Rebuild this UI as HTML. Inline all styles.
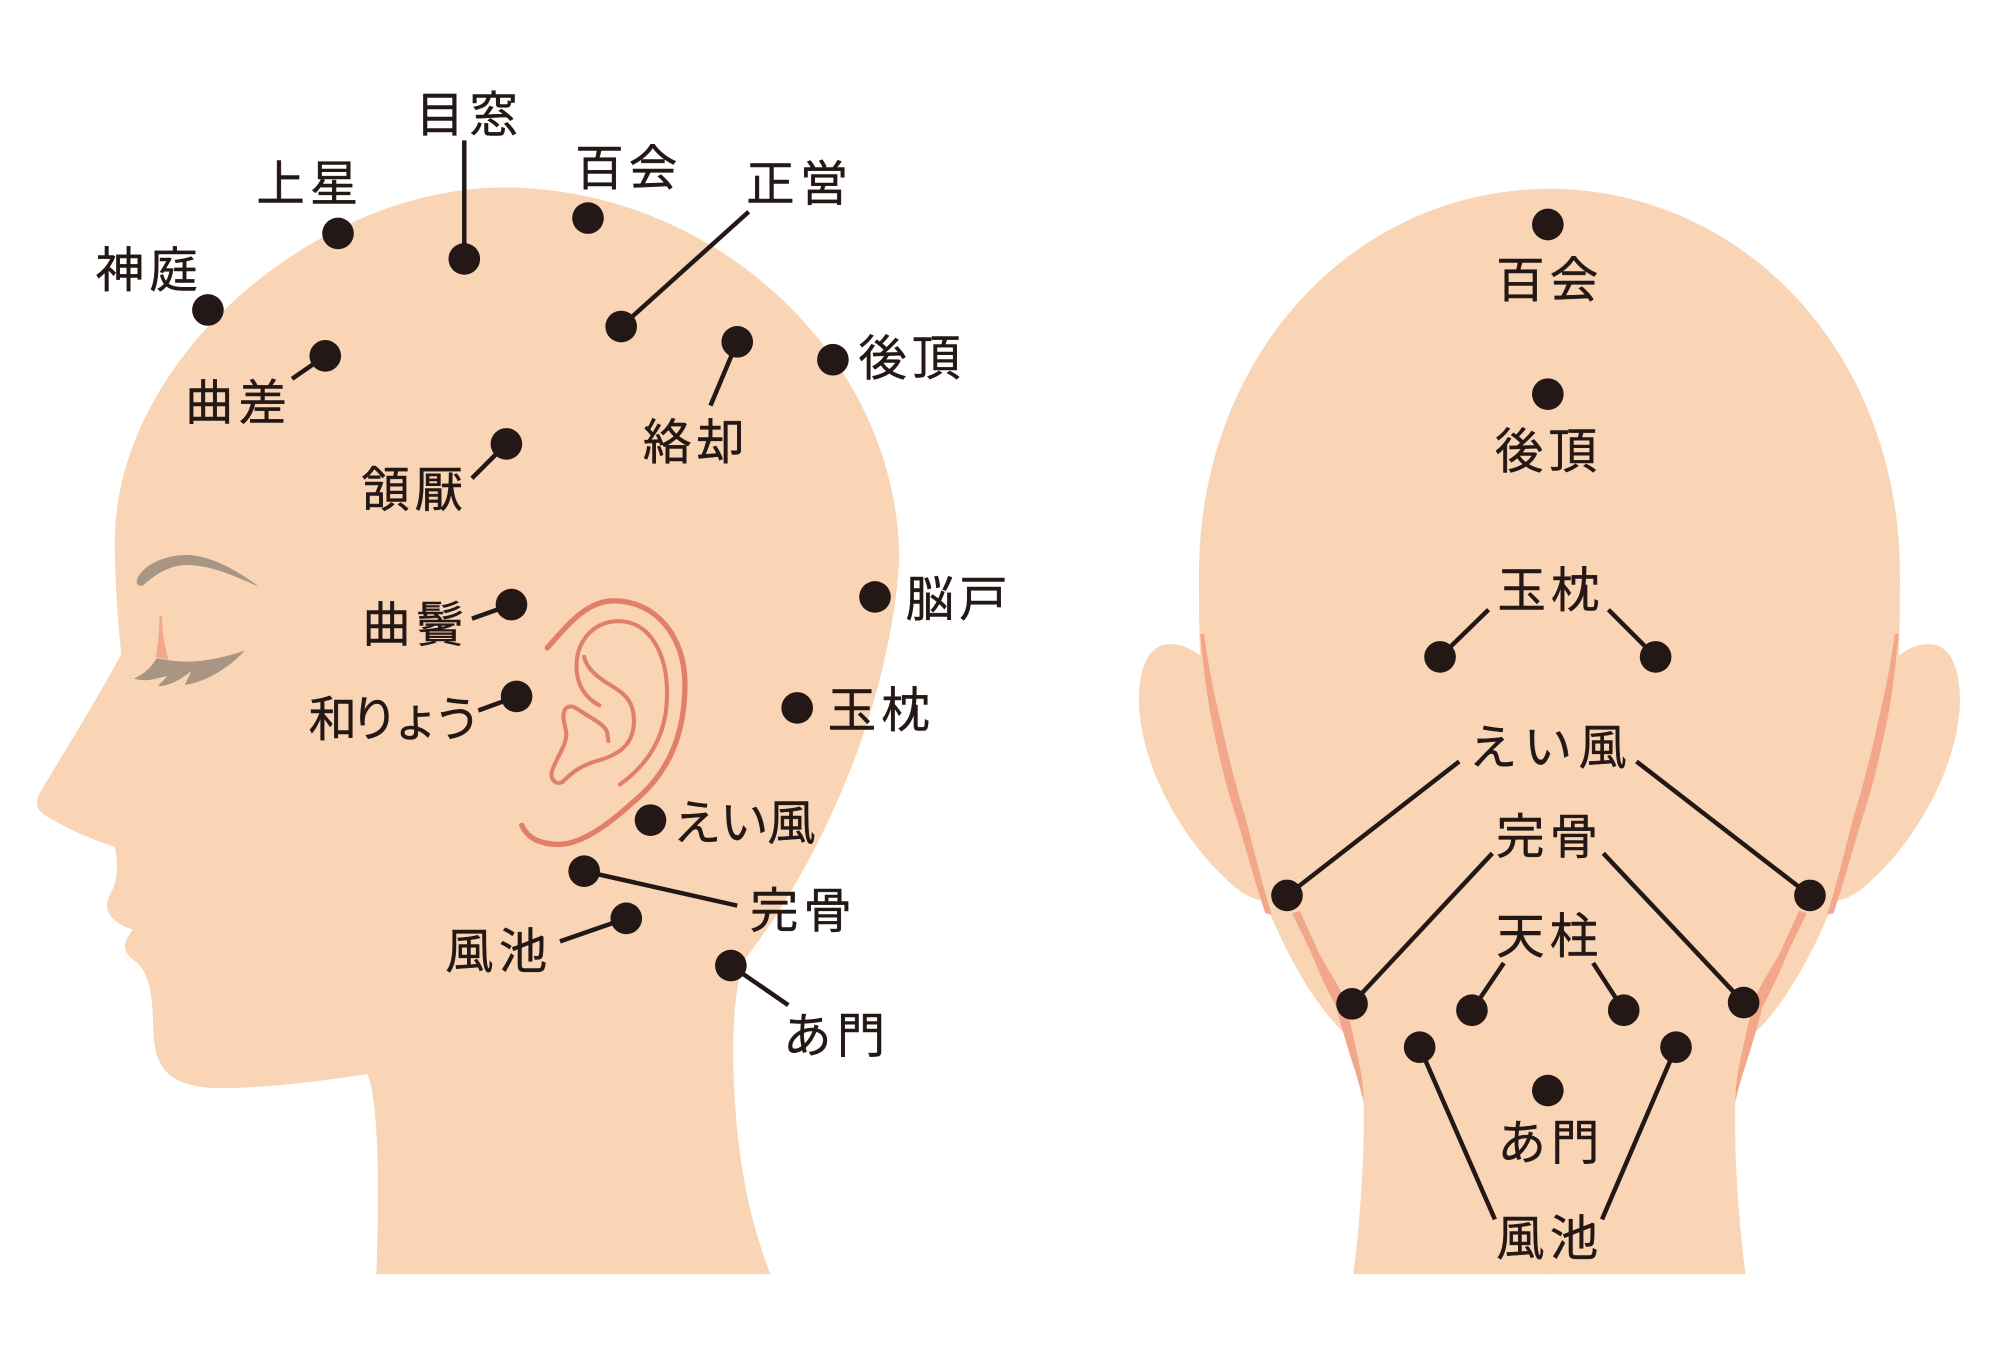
<!DOCTYPE html>
<html lang="ja"><head><meta charset="utf-8"><style>
html,body{margin:0;padding:0;background:#fff}
svg{display:block}
text{font-family:"Liberation Sans","Noto Sans CJK JP",sans-serif;font-size:38px;fill:#231815;stroke:#231815;stroke-width:.35px;text-anchor:middle;letter-spacing:4px}
.l line{stroke:#231815;stroke-width:3.5}
.d circle{fill:#231815}
</style></head><body>
<svg width="2000" height="1368" viewBox="0 0 1568 1072.5" xmlns="http://www.w3.org/2000/svg">
<rect width="1568" height="1072.5" fill="#fff"/>
<path fill="#f9d5b5" d="M395 147C250 147 90 280 90 425C90 460 93 490 95 513C75 550 50 590 31 622C26 632 30 637 42 643C55 651 72 658 90 664C93 680 92 690 87 700C80 712 85 722 104 729C97 738 95 745 104 752C116 760 119 775 120 800C120 830 125 850 165 853C200 854 250 848 288 842C296 860 298 920 295 999L604 999C585 950 577 900 575 840C574 800 577 770 584 752C640 680 697 560 705 440C705 280 560 147 395 147Z"/>
<path fill="#a99583" d="M108 453C114 441 132 435 147 435C168 436 190 450 203 460C185 452 165 443 146 443C132 443 120 452 112 459C108 460 106 457 108 453Z"/>
<path fill="#f2a68a" d="M125 483L127 483C127 495 129 506 132 517L122 515C124 505 125 495 125 483Z"/>
<path fill="#a99583" d="M192 510C170 517 150 522 123 516C118 524 112 529 105 532C115 535 122 532 131 530C128 534 125 536 124 538C132 538 142 533 150 526C148 531 146 534 145 537C160 535 178 525 192 510Z"/>
<g fill="none" stroke="#e0806a" stroke-linecap="round">
<path stroke-width="4.2" d="M429 508C445 490 460 471 481 471C515 471 537 500 537 536C537 575 525 606 495 630C475 648 455 662 438 662C425 662 414 658 409 647"/>
<path stroke-width="3.2" d="M486 615C510 598 523 575 523 544C523 510 508 487 485 487C465 487 452 503 452 522C452 538 460 548 470 553"/>
<path stroke-width="3.2" d="M458 515C460 525 470 532 480 538C492 545 497 552 497 565C497 580 490 590 470 596C455 600 448 606 441 613C435 616 431 610 433 604C437 592 444 585 444 575C443 567 440 562 443 556C447 552 450 554 456 558C465 564 474 568 476 574L477 581"/>
</g>
<g id="bh">
<path fill="#f9d5b5" d="M1216 148C1060 148 940 280 940 450C940 470 940 495 941 514C933 508 926 505 917 505C900 505 892 525 893 553C895 600 925 655 960 688C972 700 982 706 992 706L996 717C1010 750 1030 787 1053 809C1060 820 1068 840 1069 865C1070 910 1066 960 1061 999L1216 999Z"/>
<path fill="#f2a68a" d="M941 497L944 497C947 520 952 545 957 565C962 590 970 620 977 643C984 670 990 695 997 717L992 716C985 695 978 670 970 643C962 620 955 590 950 565C946 545 943 520 941 497Z"/>
<path fill="#f2a68a" d="M1013 716L1019 714C1024 725 1030 738 1034 747C1042 762 1052 775 1056 790L1064 826C1067 840 1069 850 1069 864C1066 850 1062 838 1058 826C1054 812 1050 800 1048 790C1040 775 1033 760 1028 747Z"/>
</g>
<use href="#bh" transform="translate(2429.5 0) scale(-1 1)"/>
<g class="l">
<line x1="364" y1="110" x2="364" y2="203"/><line x1="587" y1="166" x2="487" y2="256"/><line x1="557" y1="318" x2="578" y2="268"/><line x1="229" y1="297" x2="255" y2="279"/><line x1="370" y1="375" x2="397" y2="348"/><line x1="370" y1="485" x2="401" y2="474"/><line x1="375" y1="557" x2="405" y2="546"/><line x1="578" y1="710" x2="458" y2="683"/><line x1="439" y1="738" x2="491" y2="720"/><line x1="618" y1="788" x2="573" y2="757"/>
<line x1="1129" y1="515" x2="1167" y2="478"/><line x1="1298" y1="515" x2="1261" y2="478"/><line x1="1009" y1="702" x2="1144" y2="597"/><line x1="1419" y1="702" x2="1283" y2="597"/><line x1="1060" y1="787" x2="1170" y2="669"/><line x1="1367" y1="786" x2="1257" y2="669"/><line x1="1154" y1="792" x2="1179" y2="755"/><line x1="1273" y1="792" x2="1249" y2="755"/><line x1="1113" y1="821" x2="1172" y2="956"/><line x1="1314" y1="821" x2="1256" y2="956"/>
</g>
<g class="d">
<circle cx="163" cy="243" r="12.4"/><circle cx="265" cy="183" r="12.4"/><circle cx="364" cy="203" r="12.4"/><circle cx="461" cy="171" r="12.4"/><circle cx="487" cy="256" r="12.4"/><circle cx="578" cy="268" r="12.4"/><circle cx="653" cy="282" r="12.4"/><circle cx="255" cy="279" r="12.4"/><circle cx="397" cy="348" r="12.4"/><circle cx="401" cy="474" r="12.4"/><circle cx="405" cy="546" r="12.4"/><circle cx="686" cy="468" r="12.4"/><circle cx="625" cy="555" r="12.4"/><circle cx="510" cy="643" r="12.4"/><circle cx="458" cy="683" r="12.4"/><circle cx="491" cy="720" r="12.4"/><circle cx="573" cy="757" r="12.4"/>
<circle cx="1213.5" cy="176" r="12.4"/><circle cx="1213.5" cy="309" r="12.4"/><circle cx="1129" cy="515" r="12.4"/><circle cx="1298" cy="515" r="12.4"/><circle cx="1009" cy="702" r="12.4"/><circle cx="1419" cy="702" r="12.4"/><circle cx="1060" cy="787" r="12.4"/><circle cx="1367" cy="786" r="12.4"/><circle cx="1154" cy="792" r="12.4"/><circle cx="1273" cy="792" r="12.4"/><circle cx="1113" cy="821" r="12.4"/><circle cx="1314" cy="821" r="12.4"/><circle cx="1213.5" cy="855" r="12.4"/>
</g>
<text x="368" y="103">目窓</text><text x="243" y="157">上星</text><text x="493" y="145">百会</text><text x="627" y="157">正営</text><text x="117" y="225">神庭</text><text x="187" y="329">曲差</text><text x="715" y="294">後頂</text><text x="546" y="360">絡却</text><text x="325" y="397">頷厭</text><text x="326" y="503">曲鬢</text><text x="752" y="483">脳戸</text><text x="307" y="577" style="letter-spacing:-5.5px">和りょう</text><text x="691" y="570">玉枕</text><text x="583" y="658" style="letter-spacing:-1px">えい風</text><text x="630" y="727">完骨</text><text x="391" y="759">風池</text><text x="656" y="825">あ門</text>
<text x="1215" y="233">百会</text><text x="1214" y="367">後頂</text><text x="1216" y="476">玉枕</text><text x="1216" y="599" style="letter-spacing:5px">えい風</text><text x="1215" y="669">完骨</text><text x="1215" y="747">天柱</text><text x="1216" y="909">あ門</text><text x="1215" y="984">風池</text>
</svg>
</body></html>
